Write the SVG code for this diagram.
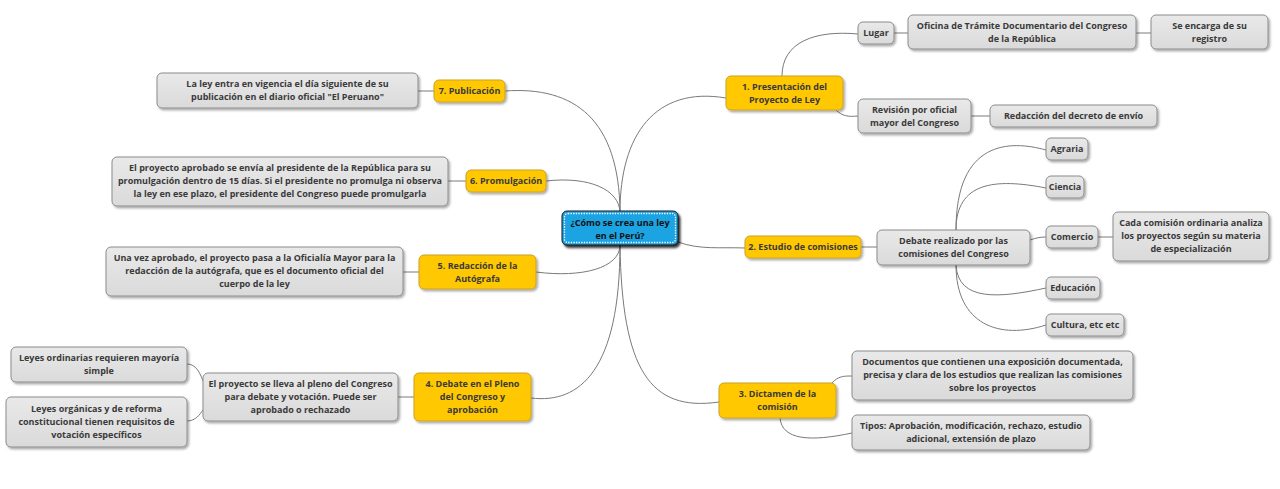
<svg xmlns="http://www.w3.org/2000/svg" width="1280" height="489" viewBox="0 0 1280 489">
<defs>
<filter id="sh" x="-10%" y="-20%" width="130%" height="160%">
<feDropShadow dx="1.5" dy="1.8" stdDeviation="0.9" flood-color="#000" flood-opacity="0.35"/>
</filter>
<filter id="shc" x="-10%" y="-20%" width="130%" height="160%">
<feDropShadow dx="2" dy="2.5" stdDeviation="0.8" flood-color="#000" flood-opacity="0.8"/>
</filter>
<linearGradient id="gg" x1="0" y1="0" x2="0" y2="1">
<stop offset="0" stop-color="#e9e9e9"/><stop offset="1" stop-color="#dadada"/>
</linearGradient>
</defs>
<style>
.g{fill:url(#gg);stroke:#8c8c8c;stroke-width:1;filter:url(#sh)}
.y{fill:#ffc800;stroke:#c9a227;stroke-width:1;filter:url(#sh)}
.c{fill:#1ea3e2;stroke:#1a1a1a;stroke-width:1;filter:url(#shc)}
.d{fill:none;stroke:#fff;stroke-width:1.3;stroke-dasharray:1.3 1.3}
text{font-family:"Open Sans","Noto Sans","Liberation Sans",sans-serif;font-size:9px;font-weight:700;fill:#3a3a3a;text-anchor:middle}
.ct{fill:#111}
.l{fill:none;stroke:#7a7a7a;stroke-width:1}
</style>
<rect width="1280" height="489" fill="#fff"/>
<g id="connectors">
<path class="l" d="M620,212 C619,120 575,86 505,91"/>
<path class="l" d="M620,212 C619,190 590,176 546,181"/>
<path class="l" d="M620,245 C620,268 582,278 536,272"/>
<path class="l" d="M620,245 C620,370 580,404 531,398"/>
<path class="l" d="M620,212 C620,135 655,86 726,98"/>
<path class="l" d="M678,242 C700,250 720,247 745,248"/>
<path class="l" d="M620,245 C622,370 650,412 719,402"/>
<path class="l" d="M418,91 L434,91"/>
<path class="l" d="M448,181 L466,181"/>
<path class="l" d="M403,272 L419,272"/>
<path class="l" d="M398,397 L414,397"/>
<path class="l" d="M187,364 C196,364 200,373 203,381"/>
<path class="l" d="M187,421 C196,421 200,414 203,410"/>
<path class="l" d="M782,76 C782,42 815,30 858,34"/>
<path class="l" d="M836,110 C842,116 848,117 858,116"/>
<path class="l" d="M894,33 L908,33"/>
<path class="l" d="M1136,33 L1151,33"/>
<path class="l" d="M971,116 L990,116"/>
<path class="l" d="M861,247 L877,247"/>
<path class="l" d="M956,230 C956,140 1010,140 1046,150"/>
<path class="l" d="M956,230 C956,182 995,178 1046,188"/>
<path class="l" d="M1030,240 C1036,238 1040,237 1046,237"/>
<path class="l" d="M1098,237 L1113,237"/>
<path class="l" d="M956,265 C958,302 1000,298 1046,288"/>
<path class="l" d="M956,265 C956,325 1000,340 1046,325"/>
<path class="l" d="M832,383 C838,376 844,376 852,376"/>
<path class="l" d="M780,418 C782,440 810,442 852,433"/>
</g>
<g id="center">
<rect class="c" x="562" y="211" width="116" height="34" rx="5"/>
<rect class="d" x="564.5" y="213.5" width="111" height="29" rx="3.5"/>
<text class="ct" x="620" y="225.5">¿Cómo se crea una ley</text>
<text class="ct" x="620" y="238.5">en el Perú?</text>
</g>
<g id="n1">
<rect class="y" x="726" y="76" width="117" height="34" rx="5"/>
<text x="784.5" y="90">1. Presentación del</text>
<text x="784.5" y="103">Proyecto de Ley</text>
</g>
<g id="lugar">
<rect class="g" x="858" y="22" width="36" height="22" rx="5"/>
<text x="876" y="36">Lugar</text>
</g>
<g id="oficina">
<rect class="g" x="908" y="15" width="228" height="34" rx="5"/>
<text x="1022" y="29">Oficina de Trámite Documentario del Congreso</text>
<text x="1022" y="42">de la República</text>
</g>
<g id="encarga">
<rect class="g" x="1151" y="15" width="117" height="34" rx="5"/>
<text x="1209.5" y="29">Se encarga de su</text>
<text x="1209.5" y="42">registro</text>
</g>
<g id="revision">
<rect class="g" x="858" y="99" width="113" height="34" rx="5"/>
<text x="914.5" y="113">Revisión por oficial</text>
<text x="914.5" y="126">mayor del Congreso</text>
</g>
<g id="decreto">
<rect class="g" x="990" y="105" width="167" height="22" rx="5"/>
<text x="1073.5" y="119">Redacción del decreto de envío</text>
</g>
<g id="n2">
<rect class="y" x="745" y="236" width="116" height="22" rx="5"/>
<text x="803" y="250">2. Estudio de comisiones</text>
</g>
<g id="debate">
<rect class="g" x="877" y="230" width="153" height="35" rx="5"/>
<text x="953.5" y="244">Debate realizado por las</text>
<text x="953.5" y="257">comisiones del Congreso</text>
</g>
<g id="agraria">
<rect class="g" x="1046" y="138" width="42" height="22" rx="5"/>
<text x="1067" y="152">Agraria</text>
</g>
<g id="ciencia">
<rect class="g" x="1046" y="176" width="38" height="22" rx="5"/>
<text x="1065" y="190">Ciencia</text>
</g>
<g id="comercio">
<rect class="g" x="1046" y="226" width="52" height="22" rx="5"/>
<text x="1072" y="240">Comercio</text>
</g>
<g id="cada">
<rect class="g" x="1113" y="212" width="156" height="49" rx="5"/>
<text x="1191" y="226">Cada comisión ordinaria analiza</text>
<text x="1191" y="239">los proyectos según su materia</text>
<text x="1191" y="252">de especialización</text>
</g>
<g id="educacion">
<rect class="g" x="1046" y="277" width="54" height="22" rx="5"/>
<text x="1073" y="291">Educación</text>
</g>
<g id="cultura">
<rect class="g" x="1046" y="314" width="78" height="22" rx="5"/>
<text x="1085" y="328">Cultura, etc etc</text>
</g>
<g id="n3">
<rect class="y" x="719" y="383" width="117" height="35" rx="5"/>
<text x="777.5" y="397">3. Dictamen de la</text>
<text x="777.5" y="410">comisión</text>
</g>
<g id="documentos">
<rect class="g" x="852" y="351" width="281" height="49" rx="5"/>
<text x="992.5" y="365">Documentos que contienen una exposición documentada,</text>
<text x="992.5" y="378">precisa y clara de los estudios que realizan las comisiones</text>
<text x="992.5" y="391">sobre los proyectos</text>
</g>
<g id="tipos">
<rect class="g" x="852" y="415" width="238" height="35" rx="5"/>
<text x="971" y="429">Tipos: Aprobación, modificación, rechazo, estudio</text>
<text x="971" y="442">adicional, extensión de plazo</text>
</g>
<g id="n7">
<rect class="y" x="434" y="80" width="71" height="22" rx="5"/>
<text x="469.5" y="94">7. Publicación</text>
</g>
<g id="laley">
<rect class="g" x="157" y="73" width="261" height="35" rx="5"/>
<text x="287.5" y="87">La ley entra en vigencia el día siguiente de su</text>
<text x="287.5" y="100">publicación en el diario oficial "El Peruano"</text>
</g>
<g id="n6">
<rect class="y" x="466" y="170" width="80" height="22" rx="5"/>
<text x="506" y="184">6. Promulgación</text>
</g>
<g id="aprobado">
<rect class="g" x="112" y="157" width="336" height="49" rx="5"/>
<text x="280" y="171">El proyecto aprobado se envía al presidente de la República para su</text>
<text x="280" y="184">promulgación dentro de 15 días. Si el presidente no promulga ni observa</text>
<text x="280" y="197">la ley en ese plazo, el presidente del Congreso puede promulgarla</text>
</g>
<g id="n5">
<rect class="y" x="419" y="255" width="117" height="34" rx="5"/>
<text x="477.5" y="269">5. Redacción de la</text>
<text x="477.5" y="282">Autógrafa</text>
</g>
<g id="unavez">
<rect class="g" x="106" y="247" width="297" height="49" rx="5"/>
<text x="254.5" y="261">Una vez aprobado, el proyecto pasa a la Oficialía Mayor para la</text>
<text x="254.5" y="274">redacción de la autógrafa, que es el documento oficial del</text>
<text x="254.5" y="287">cuerpo de la ley</text>
</g>
<g id="n4">
<rect class="y" x="414" y="373" width="117" height="48" rx="5"/>
<text x="472.5" y="387">4. Debate en el Pleno</text>
<text x="472.5" y="400">del Congreso y</text>
<text x="472.5" y="413">aprobación</text>
</g>
<g id="pleno">
<rect class="g" x="203" y="373" width="195" height="48" rx="5"/>
<text x="300.5" y="387">El proyecto se lleva al pleno del Congreso</text>
<text x="300.5" y="400">para debate y votación. Puede ser</text>
<text x="300.5" y="413">aprobado o rechazado</text>
</g>
<g id="ordinarias">
<rect class="g" x="11" y="347" width="176" height="35" rx="5"/>
<text x="99" y="361">Leyes ordinarias requieren mayoría</text>
<text x="99" y="374">simple</text>
</g>
<g id="organicas">
<rect class="g" x="6" y="397" width="181" height="50" rx="5"/>
<text x="96.5" y="412">Leyes orgánicas y de reforma</text>
<text x="96.5" y="425">constitucional tienen requisitos de</text>
<text x="96.5" y="438">votación específicos</text>
</g>
</svg>
